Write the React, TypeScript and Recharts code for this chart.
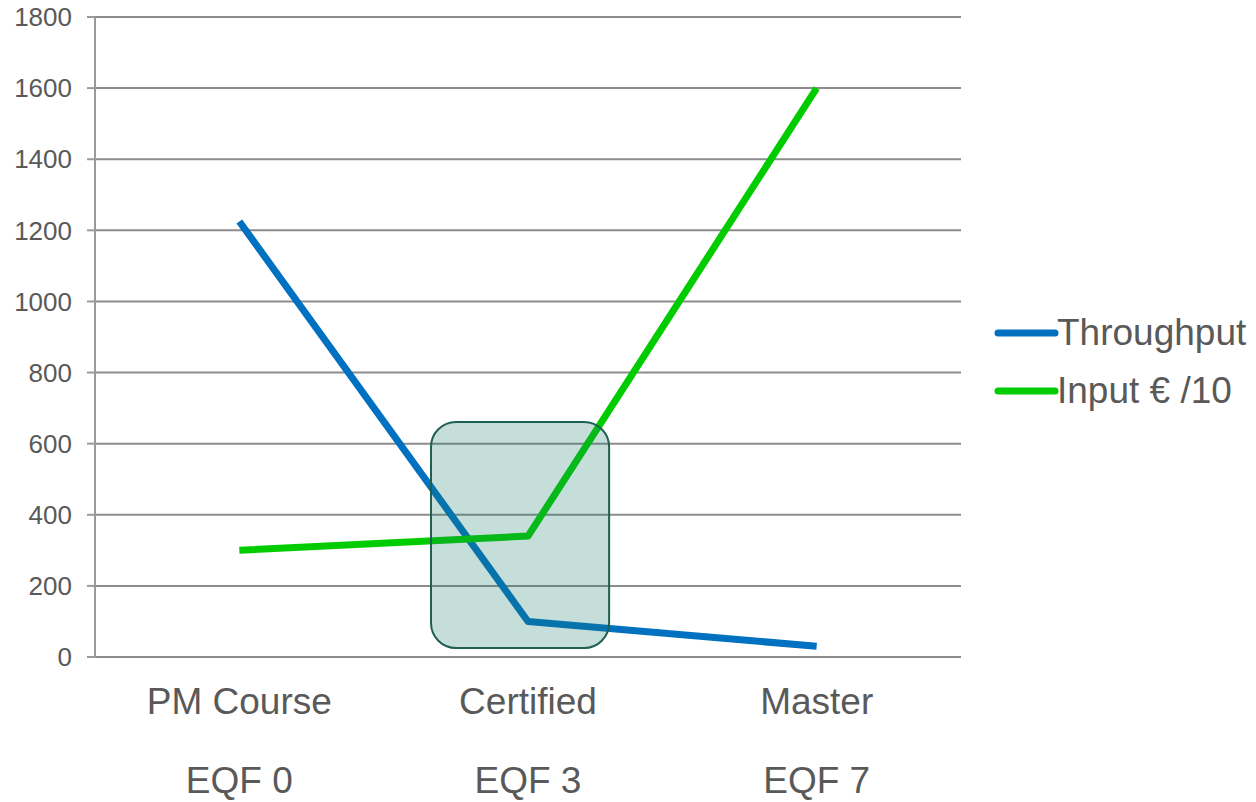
import React from "react";
import {
  LineChart,
  Line,
  XAxis,
  YAxis,
  CartesianGrid,
  Legend,
  ReferenceArea,
} from "recharts";

const categories = ["PM Course", "Certified", "Master"];
const levels = ["EQF 0", "EQF 3", "EQF 7"];
const throughput = [1225, 100, 30];
const inputEuro10 = [300, 340, 1600];
const yTicks = [0, 200, 400, 600, 800, 1000, 1200, 1400, 1600, 1800];
const seriesNames = ["Throughput", "Input € /10"];
const seriesColors = ["#0070c0", "#00cc00"];
// highlight box around "Certified" (x in category-index units, y in data units)
const highlightX = [0.664, 1.281];
const highlightY = [25, 661];

const data = categories.map((c, i) => ({
  idx: i,
  name: c,
  level: levels[i],
  throughput: throughput[i],
  input: inputEuro10[i],
}));

const FONT = "'Liberation Sans', Arial, sans-serif";
const TEXT = "#595959";

const CategoryTick = (props: any) => {
  const { x, y, payload } = props;
  const i = Math.round(payload.value);
  return (
    <g>
      <text x={x} y={y + 57} textAnchor="middle" fill={TEXT} fontSize={37} fontFamily={FONT}>
        {categories[i]}
      </text>
      <text x={x} y={y + 136} textAnchor="middle" fill={TEXT} fontSize={37} fontFamily={FONT}>
        {levels[i]}
      </text>
    </g>
  );
};

const LegendContent = () => (
  <div style={{ fontFamily: FONT }}>
    {seriesNames.map((n, i) => (
      <div key={n} style={{ display: "flex", alignItems: "center", height: 58 }}>
        <svg width={66} height={10} style={{ display: "block" }}>
          <line x1={5} y1={5} x2={62} y2={5} stroke={seriesColors[i]} strokeWidth={7} strokeLinecap="round" />
        </svg>
        <span style={{ color: TEXT, fontSize: 37, whiteSpace: "nowrap", marginLeft: -2 }}>{n}</span>
      </div>
    ))}
  </div>
);

const HighlightShape = (props: any) => {
  const { x, y, width, height } = props;
  return (
    <rect
      x={x}
      y={y}
      width={width}
      height={height}
      rx={25}
      ry={25}
      fill="#1b7a6b"
      fillOpacity={0.25}
      stroke="#1e6052"
      strokeWidth={2}
    />
  );
};

export default function App() {
  return (
    <div style={{ position: "absolute", left: 0, top: 0, width: 1256, height: 802, background: "#fff" }}>
      <LineChart
        width={1256}
        height={802}
        data={data}
        margin={{ top: 17, right: 295, bottom: 0, left: 15 }}
      >
        <CartesianGrid horizontal vertical={false} stroke="#8c8c8c" strokeWidth={2} />
        <XAxis
          xAxisId="main"
          type="number"
          dataKey="idx"
          domain={[-0.5, 2.5]}
          ticks={[-0.5, 0.5, 1.5, 2.5]}
          height={0}
          tick={false}
          tickSize={11}
          stroke="#9a9a9a"
          strokeWidth={2}
          allowDataOverflow
        />
        <XAxis
          xAxisId="labels"
          type="number"
          dataKey="idx"
          domain={[-0.5, 2.5]}
          ticks={[0, 1, 2]}
          height={145}
          axisLine={false}
          tickLine={false}
          tickSize={0}
          tickMargin={0}
          tick={<CategoryTick />}
          interval={0}
        />
        <YAxis
          type="number"
          domain={[0, 1800]}
          ticks={yTicks}
          width={80}
          tickSize={8}
          tickMargin={15}
          stroke="#9a9a9a"
          strokeWidth={2}
          tick={{ fill: TEXT, fontSize: 26, fontFamily: FONT }}
          interval={0}
        />
        <Line
          xAxisId="main"
          type="linear"
          dataKey="throughput"
          name={seriesNames[0]}
          stroke={seriesColors[0]}
          strokeWidth={7}
          dot={false}
          activeDot={false}
          strokeLinejoin="round"
          isAnimationActive={false}
        />
        <Line
          xAxisId="main"
          type="linear"
          dataKey="input"
          name={seriesNames[1]}
          stroke={seriesColors[1]}
          strokeWidth={7}
          dot={false}
          activeDot={false}
          strokeLinejoin="round"
          isAnimationActive={false}
        />
        <ReferenceArea
          xAxisId="main"
          x1={highlightX[0]}
          x2={highlightX[1]}
          y1={highlightY[0]}
          y2={highlightY[1]}
          shape={<HighlightShape />}
          zIndex={1000}
        />
        <Legend
          layout="vertical"
          align="center"
          verticalAlign="middle"
          content={<LegendContent />}
          wrapperStyle={{ left: 993, top: 304, width: 263 }}
        />
      </LineChart>
    </div>
  );
}
